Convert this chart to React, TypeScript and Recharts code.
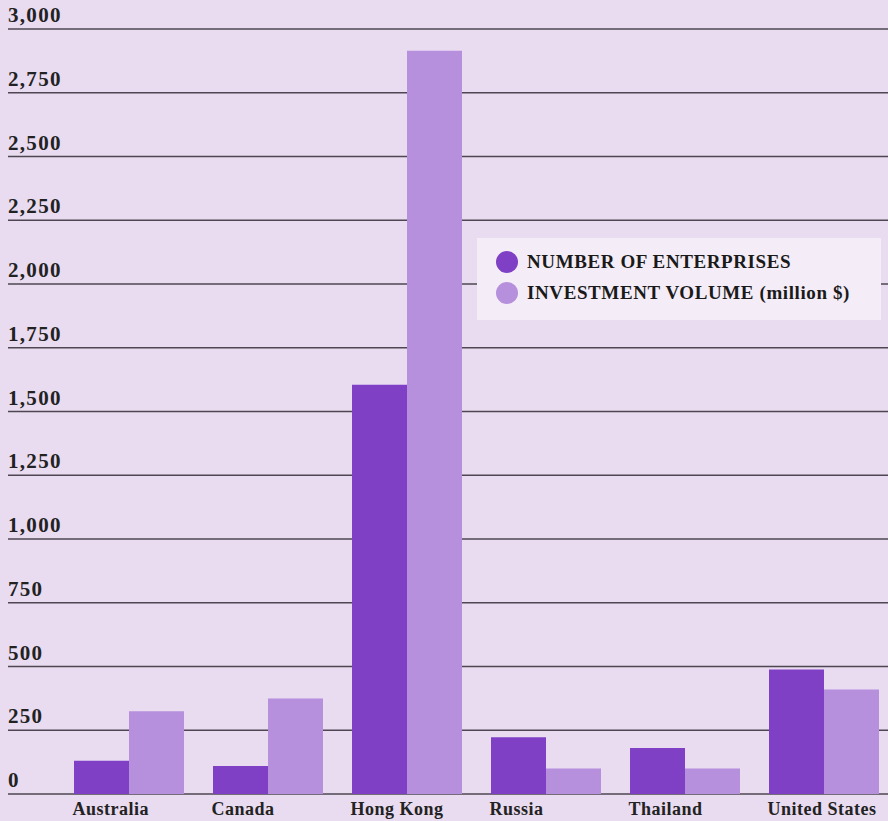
import React from 'react';
import { BarChart, Bar, XAxis, YAxis, CartesianGrid, Legend } from 'recharts';

const countries = ['Australia', 'Canada', 'Hong Kong', 'Russia', 'Thailand', 'United States'];
const enterprises = [130, 110, 1605, 223, 180, 488];
const investment = [325, 375, 2915, 100, 100, 410];
const yTicks = [0, 250, 500, 750, 1000, 1250, 1500, 1750, 2000, 2250, 2500, 2750, 3000];

const DARK = '#8040c6';
const LIGHT = '#b68fdd';
const BG = '#e9dbf0';
const FONT = '"Liberation Serif", "Times New Roman", serif';

const chartData = countries.map((c, i) => ({
    country: c,
    enterprises: enterprises[i],
    investment: investment[i],
}));

const YTick = (props: any) => {
    const { y, payload } = props;
    return (
        <text x={8} y={y - 7} fill="#222" fontFamily={FONT} fontWeight="bold" fontSize={21} letterSpacing={1.3}>
            {Number(payload.value).toLocaleString('en-US')}
        </text>
    );
};

const XTick = (props: any) => {
    const { x, y, payload } = props;
    return (
        <text x={x - 56} y={y + 13} fill="#222" fontFamily={FONT} fontWeight="bold" fontSize={18} letterSpacing={0.5}>
            {payload.value}
        </text>
    );
};

const LegendBox = () => (
    <div style={{ width: 404, height: 82, background: '#f4edf7', fontFamily: FONT, fontWeight: 'bold', fontSize: 19, color: '#1a1a1a', position: 'relative' }}>
        {[
            { label: 'NUMBER OF ENTERPRISES', color: DARK, top: 13 },
            { label: 'INVESTMENT VOLUME (million $)', color: LIGHT, top: 44 },
        ].map(item => (
            <div key={item.label} style={{ position: 'absolute', left: 19, top: item.top, display: 'flex', alignItems: 'center', whiteSpace: 'nowrap' }}>
                <span style={{ width: 22, height: 22, borderRadius: 11, background: item.color, display: 'inline-block', marginRight: 9 }} />
                <span style={{ letterSpacing: 0.6 }}>{item.label}</span>
            </div>
        ))}
    </div>
);

export default function App() {
    return (
        <div style={{ position: 'absolute', left: 0, top: 0, width: 888, height: 821, overflow: 'hidden', background: BG }}>
            <BarChart width={900} height={821} data={chartData} margin={{ top: 29, right: 0, left: -32, bottom: 0 }} barGap={0}>
                <CartesianGrid vertical={false} stroke="#4e4752" strokeWidth={1.5} />
                <XAxis
                    dataKey="country"
                    height={27}
                    axisLine={false}
                    tickLine={false}
                    padding={{ left: 51, right: 7 }}
                    tick={<XTick />}
                    interval={0}
                />
                <YAxis
                    width={40}
                    domain={[0, 3000]}
                    ticks={yTicks}
                    axisLine={false}
                    tickLine={false}
                    tick={<YTick />}
                    interval={0}
                />
                <Legend
                    layout="horizontal"
                    verticalAlign="middle"
                    content={<LegendBox />}
                    wrapperStyle={{ position: 'absolute', left: 477, top: 238, width: 404, height: 82 }}
                />
                <Bar dataKey="enterprises" fill={DARK} barSize={55} isAnimationActive={false} />
                <Bar dataKey="investment" fill={LIGHT} barSize={55} isAnimationActive={false} />
            </BarChart>
        </div>
    );
}
